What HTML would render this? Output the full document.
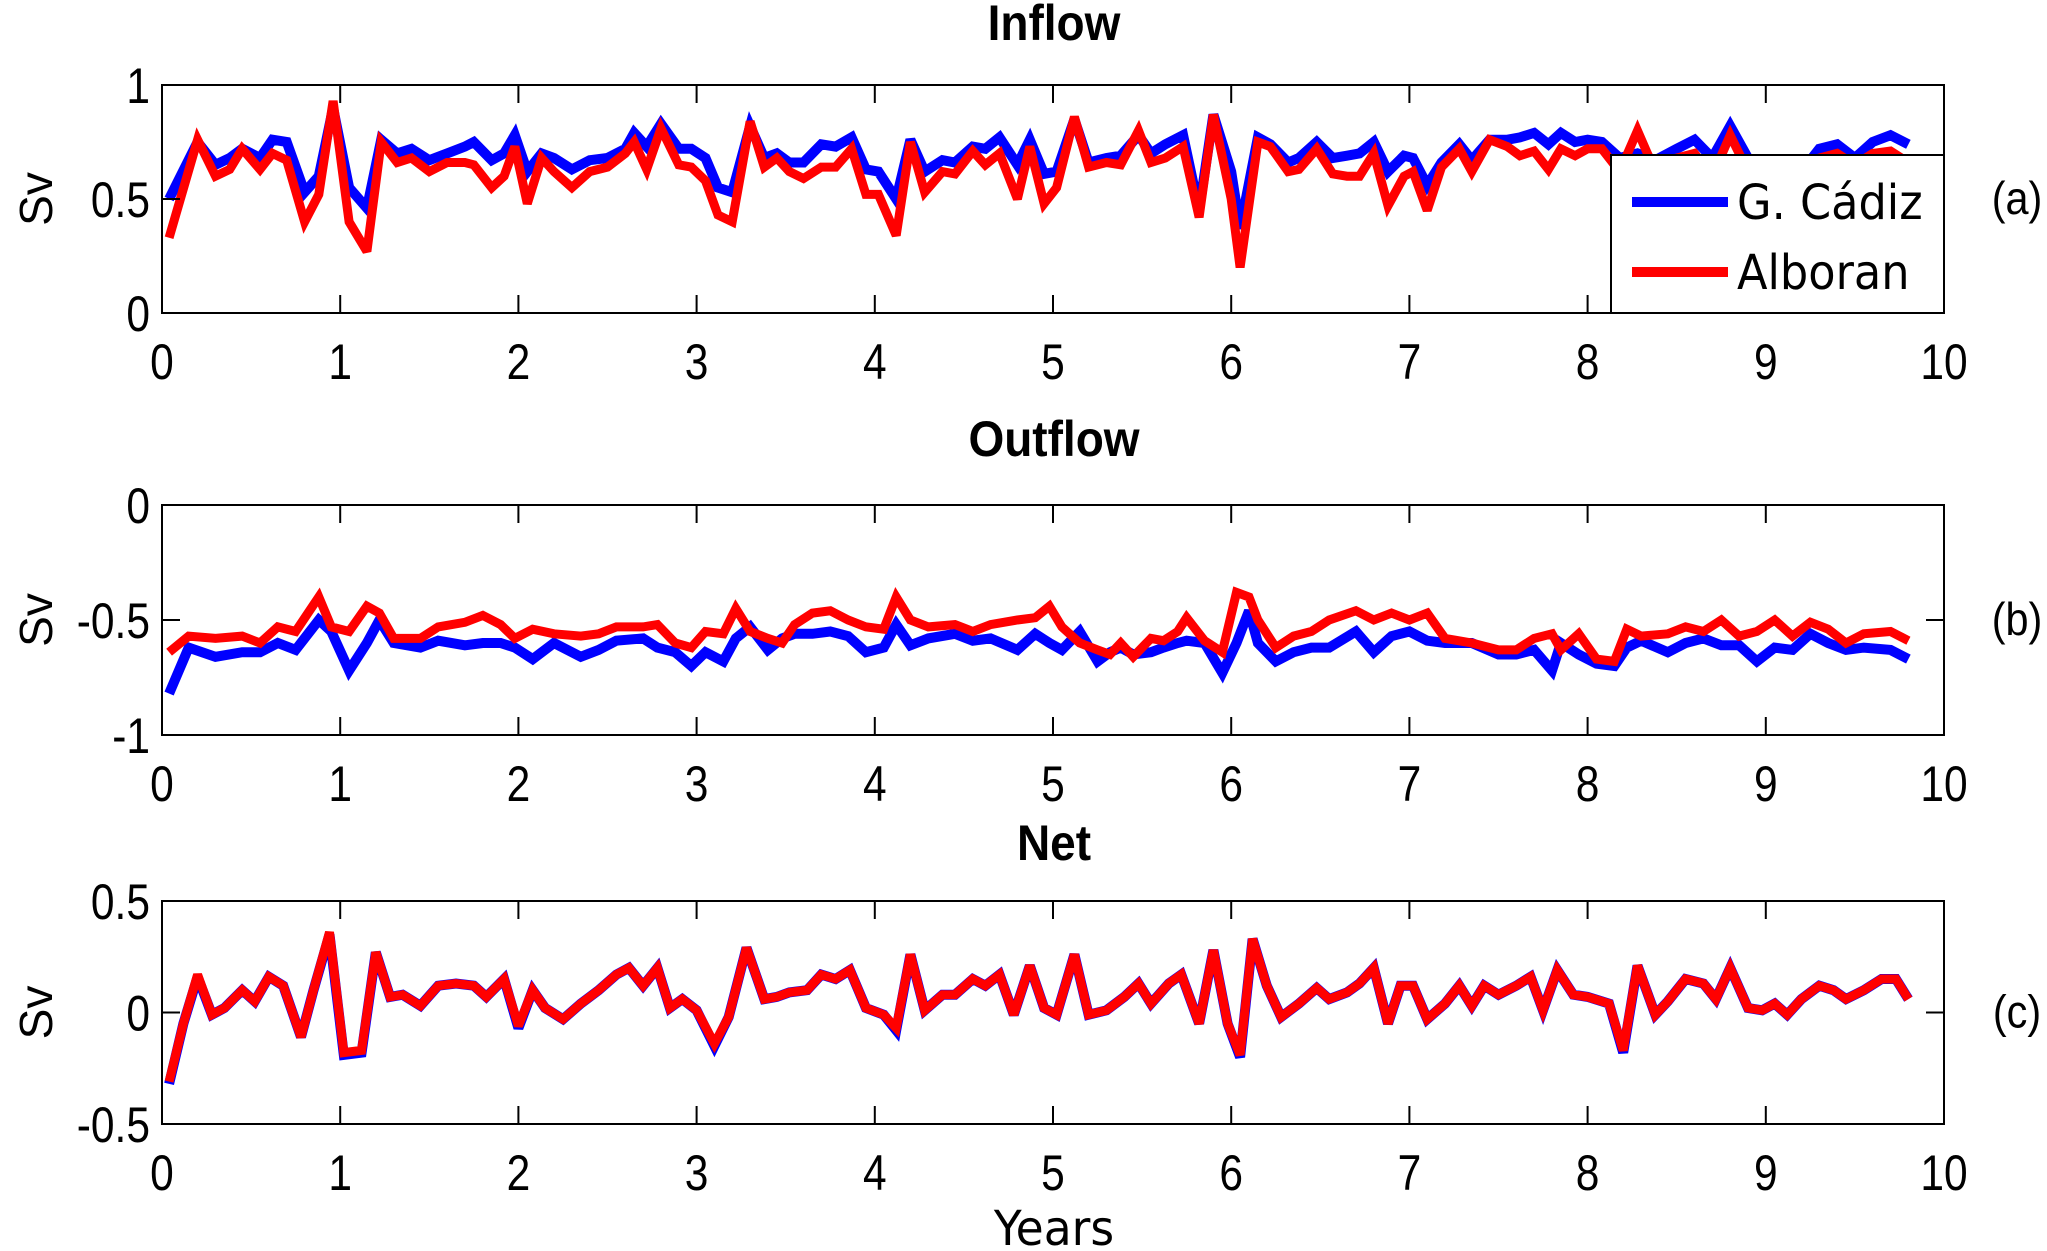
<!DOCTYPE html>
<html><head><meta charset="utf-8"><style>
html,body{margin:0;padding:0;background:#fff;}
svg{display:block;}
text{font-family:"Liberation Sans",sans-serif;fill:#000;}
</style></head><body>
<svg id="fig" width="2047" height="1251" viewBox="0 0 2047 1251" xmlns="http://www.w3.org/2000/svg"></svg>
<script>
const xTicks=[0,1,2,3,4,5,6,7,8,9,10];
const xTickLabels=["0","1","2","3","4","5","6","7","8","9","10"];
// Inflow
const inT=[0.04,0.2,0.3,0.38,0.45,0.55,0.62,0.7,0.8,0.88,0.96,1.05,1.15,1.23,1.32,1.4,1.5,1.6,1.7,1.75,1.85,1.92,1.98,2.05,2.13,2.2,2.3,2.4,2.5,2.6,2.65,2.72,2.8,2.9,2.97,3.05,3.12,3.2,3.3,3.38,3.45,3.52,3.6,3.7,3.78,3.87,3.95,4.02,4.12,4.2,4.28,4.38,4.45,4.55,4.62,4.7,4.8,4.87,4.95,5.02,5.12,5.2,5.3,5.38,5.48,5.55,5.63,5.73,5.82,5.9,6.0,6.05,6.15,6.22,6.32,6.38,6.48,6.57,6.65,6.72,6.8,6.88,6.97,7.02,7.1,7.18,7.28,7.35,7.45,7.55,7.62,7.7,7.78,7.85,7.93,8.0,8.08,8.18,8.28,8.38,8.5,8.6,8.7,8.8,8.9,9.0,9.1,9.2,9.3,9.4,9.5,9.6,9.7,9.8];
const inRed=[0.33,0.76,0.6,0.63,0.72,0.63,0.7,0.67,0.4,0.52,0.93,0.4,0.27,0.75,0.66,0.68,0.62,0.66,0.66,0.65,0.55,0.6,0.73,0.48,0.68,0.62,0.55,0.62,0.64,0.7,0.75,0.63,0.81,0.65,0.64,0.58,0.43,0.4,0.84,0.64,0.68,0.62,0.59,0.64,0.64,0.72,0.52,0.52,0.34,0.75,0.53,0.62,0.61,0.71,0.65,0.7,0.5,0.73,0.48,0.55,0.86,0.64,0.66,0.65,0.8,0.66,0.68,0.73,0.42,0.87,0.5,0.2,0.75,0.73,0.62,0.63,0.72,0.61,0.6,0.6,0.7,0.47,0.6,0.62,0.45,0.64,0.72,0.62,0.76,0.73,0.69,0.71,0.63,0.72,0.69,0.72,0.72,0.62,0.8,0.62,0.68,0.7,0.6,0.78,0.62,0.6,0.65,0.6,0.68,0.7,0.65,0.7,0.71,0.66];
const inBlue=[0.5,0.75,0.65,0.68,0.72,0.68,0.76,0.75,0.53,0.6,0.9,0.55,0.46,0.76,0.7,0.72,0.67,0.7,0.73,0.75,0.67,0.7,0.78,0.62,0.7,0.68,0.63,0.67,0.68,0.72,0.79,0.73,0.83,0.72,0.72,0.68,0.55,0.53,0.82,0.68,0.7,0.66,0.66,0.74,0.73,0.77,0.63,0.62,0.5,0.76,0.62,0.67,0.66,0.73,0.72,0.77,0.65,0.76,0.61,0.62,0.85,0.66,0.68,0.69,0.78,0.7,0.74,0.78,0.45,0.87,0.62,0.37,0.77,0.74,0.66,0.68,0.75,0.68,0.69,0.7,0.75,0.62,0.69,0.68,0.56,0.66,0.74,0.67,0.76,0.76,0.77,0.79,0.74,0.79,0.75,0.76,0.75,0.68,0.7,0.67,0.72,0.76,0.68,0.82,0.68,0.65,0.67,0.62,0.72,0.74,0.68,0.75,0.78,0.74];
// Outflow
const outT=[0.04,0.15,0.3,0.45,0.55,0.65,0.75,0.88,0.95,1.05,1.15,1.22,1.3,1.45,1.55,1.7,1.8,1.9,1.98,2.08,2.2,2.35,2.45,2.55,2.7,2.78,2.88,2.97,3.05,3.15,3.22,3.3,3.4,3.48,3.55,3.65,3.75,3.85,3.95,4.05,4.12,4.2,4.3,4.45,4.55,4.65,4.8,4.9,4.98,5.05,5.15,5.25,5.32,5.38,5.45,5.55,5.62,5.7,5.75,5.85,5.95,6.03,6.1,6.15,6.25,6.35,6.45,6.55,6.7,6.8,6.9,7.0,7.1,7.2,7.35,7.5,7.6,7.7,7.8,7.85,7.95,8.05,8.15,8.22,8.3,8.45,8.55,8.65,8.75,8.85,8.95,9.05,9.15,9.25,9.35,9.45,9.55,9.7,9.8];
const outRed=[-0.64,-0.57,-0.58,-0.57,-0.6,-0.53,-0.55,-0.4,-0.53,-0.55,-0.44,-0.47,-0.58,-0.58,-0.53,-0.51,-0.48,-0.52,-0.58,-0.54,-0.56,-0.57,-0.56,-0.53,-0.53,-0.52,-0.6,-0.62,-0.55,-0.56,-0.45,-0.55,-0.58,-0.6,-0.52,-0.47,-0.46,-0.5,-0.53,-0.54,-0.4,-0.5,-0.53,-0.52,-0.55,-0.52,-0.5,-0.49,-0.44,-0.53,-0.6,-0.63,-0.65,-0.6,-0.66,-0.58,-0.59,-0.55,-0.49,-0.59,-0.64,-0.38,-0.4,-0.5,-0.62,-0.57,-0.55,-0.5,-0.46,-0.5,-0.47,-0.5,-0.47,-0.58,-0.6,-0.63,-0.63,-0.58,-0.56,-0.63,-0.56,-0.67,-0.68,-0.54,-0.57,-0.56,-0.53,-0.55,-0.5,-0.57,-0.55,-0.5,-0.57,-0.51,-0.54,-0.6,-0.56,-0.55,-0.59];
const outBlue=[-0.82,-0.62,-0.66,-0.64,-0.64,-0.6,-0.63,-0.5,-0.55,-0.72,-0.6,-0.5,-0.6,-0.62,-0.59,-0.61,-0.6,-0.6,-0.62,-0.67,-0.6,-0.66,-0.63,-0.59,-0.58,-0.62,-0.64,-0.7,-0.64,-0.68,-0.58,-0.53,-0.63,-0.58,-0.56,-0.56,-0.55,-0.57,-0.64,-0.62,-0.52,-0.61,-0.58,-0.56,-0.59,-0.58,-0.63,-0.56,-0.6,-0.63,-0.55,-0.68,-0.64,-0.62,-0.65,-0.64,-0.62,-0.6,-0.59,-0.6,-0.73,-0.6,-0.46,-0.6,-0.68,-0.64,-0.62,-0.62,-0.55,-0.64,-0.57,-0.55,-0.59,-0.6,-0.6,-0.65,-0.65,-0.63,-0.72,-0.6,-0.65,-0.69,-0.7,-0.62,-0.59,-0.64,-0.6,-0.58,-0.61,-0.61,-0.68,-0.62,-0.63,-0.56,-0.6,-0.63,-0.62,-0.63,-0.67];
// Net
const netT=[0.04,0.12,0.2,0.28,0.35,0.45,0.52,0.6,0.68,0.78,0.85,0.94,1.02,1.12,1.2,1.28,1.35,1.45,1.55,1.65,1.75,1.82,1.92,2.0,2.08,2.15,2.25,2.35,2.45,2.55,2.62,2.7,2.78,2.85,2.92,3.0,3.1,3.18,3.28,3.38,3.45,3.52,3.62,3.7,3.78,3.86,3.95,4.05,4.12,4.2,4.28,4.38,4.45,4.55,4.62,4.7,4.78,4.87,4.95,5.02,5.12,5.2,5.3,5.4,5.48,5.55,5.65,5.72,5.82,5.9,5.98,6.05,6.12,6.2,6.28,6.38,6.48,6.55,6.65,6.72,6.8,6.88,6.95,7.02,7.1,7.2,7.28,7.35,7.42,7.5,7.6,7.68,7.75,7.83,7.92,8.0,8.12,8.2,8.28,8.38,8.45,8.55,8.65,8.72,8.8,8.9,8.98,9.05,9.12,9.2,9.3,9.38,9.45,9.55,9.65,9.73,9.8];
const netRed=[-0.31,-0.05,0.17,-0.01,0.02,0.1,0.05,0.16,0.12,-0.11,0.1,0.36,-0.18,-0.17,0.27,0.07,0.08,0.03,0.12,0.13,0.12,0.07,0.15,-0.06,0.1,0.02,-0.03,0.04,0.1,0.17,0.2,0.12,0.2,0.02,0.06,0.01,-0.14,-0.02,0.29,0.06,0.07,0.09,0.1,0.17,0.15,0.19,0.02,-0.01,-0.07,0.26,0.01,0.08,0.08,0.15,0.12,0.17,-0.01,0.21,0.02,-0.01,0.26,-0.01,0.01,0.07,0.13,0.04,0.13,0.17,-0.05,0.28,-0.05,-0.19,0.33,0.12,-0.02,0.04,0.11,0.06,0.09,0.13,0.2,-0.05,0.12,0.12,-0.03,0.04,0.12,0.03,0.12,0.08,0.12,0.16,0.01,0.19,0.08,0.07,0.04,-0.17,0.21,-0.01,0.05,0.15,0.13,0.06,0.2,0.02,0.01,0.04,-0.01,0.06,0.12,0.1,0.06,0.1,0.15,0.15,0.06];
const netBlue=[-0.32,-0.05,0.16,-0.01,0.02,0.1,0.05,0.16,0.12,-0.11,0.1,0.35,-0.19,-0.18,0.27,0.07,0.08,0.03,0.12,0.13,0.12,0.07,0.15,-0.07,0.1,0.02,-0.03,0.04,0.1,0.17,0.2,0.12,0.2,0.02,0.06,0.01,-0.15,-0.02,0.29,0.06,0.07,0.09,0.1,0.17,0.15,0.19,0.02,-0.01,-0.08,0.26,0.01,0.08,0.08,0.15,0.12,0.17,-0.01,0.21,0.02,-0.01,0.26,-0.01,0.01,0.07,0.13,0.04,0.13,0.17,-0.05,0.28,-0.05,-0.2,0.33,0.12,-0.02,0.04,0.11,0.06,0.09,0.13,0.2,-0.05,0.12,0.12,-0.03,0.04,0.12,0.03,0.12,0.08,0.12,0.16,0.01,0.19,0.08,0.07,0.04,-0.18,0.21,-0.01,0.05,0.15,0.13,0.06,0.2,0.02,0.01,0.04,-0.01,0.06,0.12,0.1,0.06,0.1,0.15,0.15,0.06];

const NS="http://www.w3.org/2000/svg";
const svg=document.getElementById('fig');
function mk(tag,attrs,parent){const e=document.createElementNS(NS,tag);for(const k in attrs)e.setAttribute(k,attrs[k]);(parent||svg).appendChild(e);return e;}
function txt(s,x,y,size,anchor,weight,sx,parent){
  const t=mk('text',{transform:`translate(${x},${y}) scale(${sx},1)`,'font-size':size,'text-anchor':anchor,'font-weight':weight},parent);
  t.textContent=s;return t;}
const X0=162,X1=1944;
function xs(v){return X0+(v/10)*(X1-X0);}
const panels=[
 {id:'inflow',title:'Inflow',tag:'(a)',top:85,bot:313,ymin:0,ymax:1,yt:[0,0.5,1],ytl:['0','0.5','1'],t:inT,b:inBlue,r:inRed,titleY:40},
 {id:'outflow',title:'Outflow',tag:'(b)',top:505,bot:735,ymin:-1,ymax:0,yt:[-1,-0.5,0],ytl:['-1','-0.5','0'],t:outT,b:outBlue,r:outRed,titleY:456},
 {id:'net',title:'Net',tag:'(c)',top:901,bot:1124,ymin:-0.5,ymax:0.5,yt:[-0.5,0,0.5],ytl:['-0.5','0','0.5'],t:netT,b:netBlue,r:netRed,titleY:860}
];
panels.forEach(p=>{
  const g=mk('g',{});
  
  
  const ys=v=>p.bot-(v-p.ymin)/(p.ymax-p.ymin)*(p.bot-p.top);
  const clipId='clip-'+p.id;
  const cp=mk('clipPath',{id:clipId},g);mk('rect',{x:X0,y:p.top,width:X1-X0,height:p.bot-p.top},cp);
  const lines=mk('g',{'clip-path':`url(#${clipId})`},g);
  const mkLine=(vals,color,w,name)=>{
    const d=p.t.map((tv,i)=>(i?'L':'M')+xs(tv).toFixed(1)+','+ys(vals[i]).toFixed(1)).join(' ');
    const l=mk('path',{d:d,fill:'none',stroke:color,'stroke-width':w,'stroke-linejoin':'miter','stroke-miterlimit':3},lines);
    
    
  };
  mkLine(p.b,'#0000ff',10,p.id+'-gcadiz-line');
  mkLine(p.r,'#ff0000',9,p.id+'-alboran-line');
  const box=mk('rect',{x:X0,y:p.top,width:X1-X0,height:p.bot-p.top,fill:'none',stroke:'#000','stroke-width':2},g);
  
  
  xTicks.forEach((v,i)=>{
    const x=xs(v);
    mk('line',{x1:x,y1:p.bot,x2:x,y2:p.bot-18,stroke:'#000','stroke-width':2},g);
    mk('line',{x1:x,y1:p.top,x2:x,y2:p.top+18,stroke:'#000','stroke-width':2},g);
    const t=txt(xTickLabels[i],x,p.bot+66,50,'middle','normal',0.85,g);
    
    
  });
  p.yt.forEach((v,i)=>{
    const y=ys(v);
    mk('line',{x1:X0,y1:y,x2:X0+18,y2:y,stroke:'#000','stroke-width':2},g);
    mk('line',{x1:X1,y1:y,x2:X1-18,y2:y,stroke:'#000','stroke-width':2},g);
    const t=txt(p.ytl[i],150,y+18,50,'end','normal',0.85,g);
    
    
  });
  const ti=txt(p.title,1054,p.titleY,50,'middle','bold',0.92,g);
  
  
  const tg=txt(p.tag,2017,(p.top+p.bot)/2+15,46,'middle','normal',0.9,g);
  
  
  const yl=mk('text',{transform:`translate(52,${(p.top+p.bot)/2}) rotate(-90)`,'font-size':46,'text-anchor':'middle'},g);
  yl.textContent='Sv';
  
  
});
// legend
const lg=mk('g',{});


mk('rect',{x:1611,y:155,width:333,height:158,fill:'#fff',stroke:'#000','stroke-width':2},lg);
const e1=mk('line',{x1:1632,y1:202,x2:1728,y2:202,stroke:'#0000ff','stroke-width':10},lg);


const e2=mk('line',{x1:1632,y1:272,x2:1728,y2:272,stroke:'#ff0000','stroke-width':10},lg);


const l1=txt('G. Cádiz',1737,219,48,'start','normal',0.93,lg);
l1.style.fontFamily='"DejaVu Sans",sans-serif';


const l2=txt('Alboran',1737,289,48,'start','normal',0.93,lg);
l2.style.fontFamily='"DejaVu Sans",sans-serif';


const xl=txt('Years',1054,1245,48,'middle','normal',0.95);
xl.style.fontFamily='"DejaVu Sans",sans-serif';


</script>
</body></html>
